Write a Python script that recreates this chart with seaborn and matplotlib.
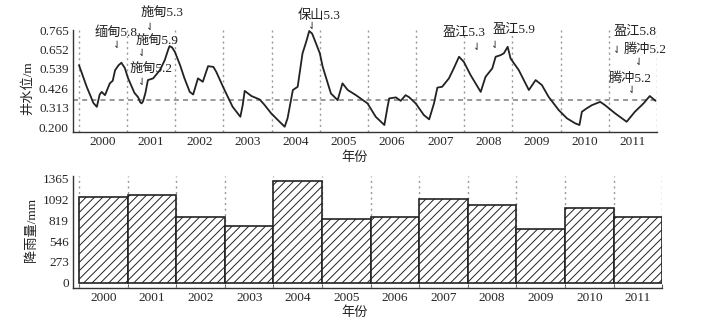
import numpy as np
import pandas as pd
import matplotlib
matplotlib.use('Agg')
import matplotlib.pyplot as plt
import seaborn as sns

# water level readings (decimal year, metres)
level_time = [2000.00, 2000.16, 2000.30, 2000.37, 2000.43, 2000.47, 2000.54, 2000.64, 2000.70,
              2000.75, 2000.82, 2000.88, 2000.95, 2001.02, 2001.15, 2001.23, 2001.27, 2001.30,
              2001.33, 2001.38, 2001.43, 2001.54, 2001.68, 2001.78, 2001.85, 2001.88, 2001.93,
              2001.99, 2002.10, 2002.19, 2002.30, 2002.37, 2002.47, 2002.57, 2002.68, 2002.79,
              2002.85, 2002.99, 2003.10, 2003.19, 2003.35, 2003.40, 2003.44, 2003.58, 2003.75,
              2003.85, 2003.99, 2004.15, 2004.27, 2004.33, 2004.44, 2004.54, 2004.64, 2004.72,
              2004.78, 2004.84, 2004.92, 2005.00, 2005.06, 2005.23, 2005.37, 2005.47, 2005.58,
              2005.75, 2005.99, 2006.16, 2006.34, 2006.40, 2006.44, 2006.58, 2006.68, 2006.78,
              2006.85, 2006.99, 2007.16, 2007.27, 2007.37, 2007.44, 2007.54, 2007.68, 2007.78,
              2007.89, 2007.99, 2008.13, 2008.34, 2008.44, 2008.58, 2008.65, 2008.75, 2008.82,
              2008.90, 2008.96, 2009.13, 2009.34, 2009.48, 2009.61, 2009.75, 2009.96, 2010.13,
              2010.30, 2010.39, 2010.44, 2010.54, 2010.65, 2010.82, 2010.92, 2011.13, 2011.37,
              2011.54, 2011.72, 2011.85, 2011.97]
level_value = [0.561, 0.435, 0.340, 0.318, 0.390, 0.405, 0.386, 0.455, 0.470,
               0.532, 0.560, 0.575, 0.545, 0.484, 0.400, 0.373, 0.345, 0.338,
               0.350, 0.400, 0.474, 0.484, 0.532, 0.590, 0.650, 0.672, 0.665,
               0.639, 0.560, 0.484, 0.405, 0.390, 0.484, 0.464, 0.555, 0.551,
               0.522, 0.435, 0.370, 0.318, 0.260, 0.330, 0.411, 0.381, 0.361,
               0.330, 0.280, 0.235, 0.202, 0.251, 0.416, 0.435, 0.629, 0.700,
               0.760, 0.745, 0.688, 0.630, 0.551, 0.396, 0.357, 0.455, 0.416,
               0.386, 0.338, 0.260, 0.212, 0.309, 0.367, 0.373, 0.353, 0.386,
               0.375, 0.338, 0.270, 0.245, 0.338, 0.430, 0.435, 0.484, 0.542,
               0.610, 0.580, 0.503, 0.405, 0.493, 0.542, 0.610, 0.619, 0.630,
               0.668, 0.600, 0.532, 0.416, 0.474, 0.445, 0.376, 0.299, 0.251,
               0.222, 0.212, 0.289, 0.309, 0.328, 0.347, 0.328, 0.280, 0.231,
               0.289, 0.338, 0.381, 0.353]
mean_level = 0.355

years = [str(y) for y in range(2000, 2012)]
rainfall = [1132, 1158, 869, 746, 1343, 838, 869, 1098, 1023, 703, 983, 861]

level_ticks = [0.200, 0.313, 0.426, 0.539, 0.652, 0.765]
rain_ticks = [0, 273, 546, 819, 1092, 1365]

# earthquake labels: text, text position, arrow position
quake_labels = ["缅甸5.8", "施甸5.3", "施甸5.9", "施甸5.2", "保山5.3",
                "盈江5.3", "盈江5.9", "盈江5.8", "腾冲5.2", "腾冲5.2"]
label_xy = [(2000.77, 0.748), (2001.72, 0.858), (2001.62, 0.695), (2001.49, 0.532),
            (2004.98, 0.852), (2007.99, 0.748), (2009.03, 0.765), (2011.54, 0.753),
            (2011.75, 0.654), (2011.44, 0.485)]
arrow_xy = [(2000.79, 0.678), (2001.47, 0.783), (2001.31, 0.631), (2001.31, 0.462),
            (2004.84, 0.788), (2008.26, 0.666), (2008.64, 0.678), (2011.17, 0.649),
            (2011.63, 0.579), (2011.48, 0.416)]

sns.set_style('white')
plt.rcParams['font.family'] = ['Liberation Serif', 'Noto Sans CJK SC', 'DejaVu Sans']
plt.rcParams['hatch.linewidth'] = 0.7
fs = 9.5
dark = '#222222'
W, H = 710, 323

fig = plt.figure(figsize=(7.1, 3.23), dpi=100)

# ---- water level panel
ax1 = fig.add_axes([73 / W, 1 - 131.7 / H, (657 - 73) / W, (131.7 - 30) / H])
df = pd.DataFrame({'t': level_time, 'v': level_value})
sns.lineplot(data=df, x='t', y='v', ax=ax1, color=dark, linewidth=1.3, zorder=3)
for b in range(2000, 2013):
    ax1.axvline(b, color='#999999', linestyle=(0, (1.5, 2.5)), linewidth=1.0, zorder=1)
ax1.axhline(mean_level, color='#888888', linestyle=(0, (3, 2.5)), linewidth=1.2, zorder=2)
ax1.set_xlim(2000 - 6 / 48.2, 2012.0)
ax1.set_ylim(0.173, 0.766)
ax1.set_yticks(level_ticks)
ax1.set_yticklabels([f'{t:.3f}' for t in level_ticks], fontsize=fs)
ax1.set_xticks([y + 0.5 for y in range(2000, 2012)])
ax1.set_xticklabels(years, fontsize=fs)
ax1.tick_params(length=0, pad=3)
ax1.set_xlabel('')
ax1.set_ylabel('')
for s in ['top', 'right']:
    ax1.spines[s].set_visible(False)
for s in ['left', 'bottom']:
    ax1.spines[s].set_color('#333333')
    ax1.spines[s].set_linewidth(1.0)

for txt, (tx, ty), (axx, ayy) in zip(quake_labels, label_xy, arrow_xy):
    ax1.text(tx, ty, txt, fontsize=fs, ha='center', va='center', color=dark)
    ax1.text(axx, ayy, '⇃', fontsize=7, ha='center', va='center', color=dark,
             family='DejaVu Sans')

# ---- rainfall panel
ax2 = fig.add_axes([73 / W, 1 - 288.3 / H, (662.3 - 73) / W, (288.3 - 176) / H])
rain_df = pd.DataFrame({'year': years, 'rain': rainfall})
sns.barplot(data=rain_df, x='year', y='rain', ax=ax2, color='white', width=1.0,
            edgecolor=dark, linewidth=1.2, zorder=3)
for p in ax2.patches:
    p.set_hatch('////')
    p.set_facecolor('white')
for b in np.arange(-0.5, 12, 1.0):
    ax2.axvline(b, color='#999999', linestyle=(0, (1.5, 2.5)), linewidth=1.0, zorder=1)
ax2.set_xlim(-0.5 - 6 / 48.6, 11.5)
ax2.set_ylim(-74, 1404)
ax2.set_yticks(rain_ticks)
ax2.set_yticklabels([str(t) for t in rain_ticks], fontsize=fs)
ax2.set_xticks(range(12))
ax2.set_xticklabels(years, fontsize=fs)
ax2.set_xticks(np.arange(-0.5, 12, 1.0), minor=True)
ax2.tick_params(axis='both', which='major', length=0, pad=3)
ax2.tick_params(axis='x', which='minor', length=3, direction='in', color='#333333', bottom=True)
ax2.set_xlabel('')
ax2.set_ylabel('')
for s in ['top', 'right']:
    ax2.spines[s].set_visible(False)
for s in ['left', 'bottom']:
    ax2.spines[s].set_color('#333333')
    ax2.spines[s].set_linewidth(1.0)

# axis titles
fig.text(28 / W, 1 - 88 / H, '井水位/m', rotation=90, ha='center', va='center', fontsize=fs, color=dark)
fig.text(32 / W, 1 - 230 / H, '降雨量/mm', rotation=90, ha='center', va='center', fontsize=fs, color=dark)
fig.text(355 / W, 1 - 158 / H, '年份', ha='center', va='center', fontsize=fs, color=dark)
fig.text(355 / W, 1 - 313 / H, '年份', ha='center', va='center', fontsize=fs, color=dark)

fig.savefig('out.png', dpi=100, facecolor='white')
